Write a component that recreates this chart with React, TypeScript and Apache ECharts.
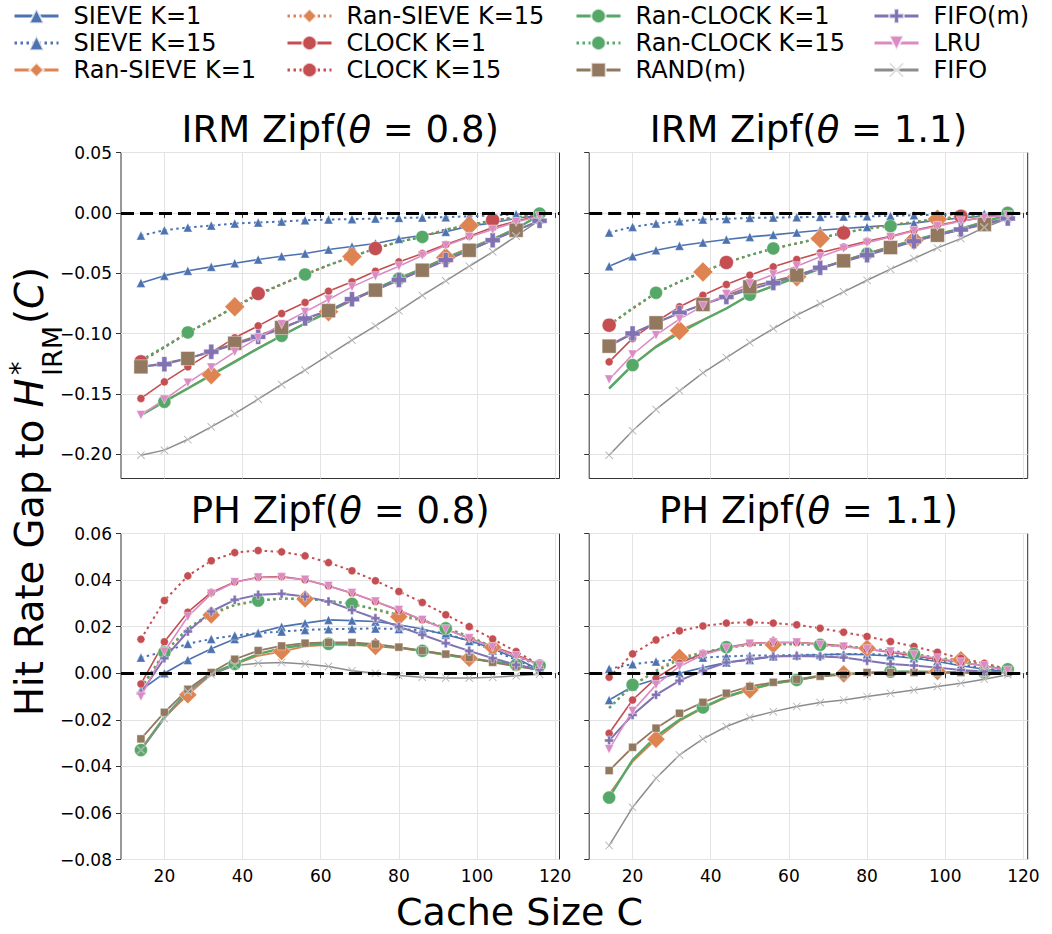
import React, { useEffect, useRef } from "react";
import * as echarts from "echarts";

// ---------------- data ----------------
const cacheSizes = [14, 20, 26, 32, 38, 44, 50, 56, 62, 68, 74, 80, 86, 92, 98, 104, 110, 116];
const xTickValues = [20, 40, 60, 80, 100, 120];
const yTicksIRM = [-0.2, -0.15, -0.1, -0.05, 0, 0.05];
const yTicksPH = [-0.08, -0.06, -0.04, -0.02, 0, 0.02, 0.04, 0.06];

const seriesNames = [
  "SIEVE K=1", "SIEVE K=15", "Ran-SIEVE K=1",
  "Ran-SIEVE K=15", "CLOCK K=1", "CLOCK K=15",
  "Ran-CLOCK K=1", "Ran-CLOCK K=15", "RAND(m)",
  "FIFO(m)", "LRU", "FIFO",
];

// IRM Zipf(0.8)
const irm08SieveK1 = [-0.058, -0.052, -0.048, -0.0447, -0.0417, -0.0386, -0.0359, -0.0337, -0.0304, -0.0278, -0.0254, -0.0215, -0.0185, -0.0157, -0.011, -0.0083, -0.0045, -0.002];
const irm08SieveK15 = [-0.0188, -0.0144, -0.0121, -0.0105, -0.0088, -0.008, -0.0072, -0.0061, -0.0055, -0.0052, -0.0047, -0.0041, -0.0039, -0.0036, -0.0028, -0.0022, -0.0011, -0.0006];
const irm08RanSieveK1 = [-0.167, -0.156, -0.145, -0.134, -0.123, -0.112, -0.1015, -0.0915, -0.0818, -0.072, -0.063, -0.054, -0.046, -0.037, -0.029, -0.0215, -0.013, -0.002];
const irm08RanSieveK15 = [-0.1225, -0.111, -0.099, -0.0885, -0.0778, -0.068, -0.059, -0.051, -0.0433, -0.0362, -0.0295, -0.024, -0.0195, -0.0138, -0.0105, -0.0066, -0.0039, -0.0011];
const irm08ClockK1 = [-0.1537, -0.14, -0.1275, -0.1155, -0.1035, -0.0936, -0.0834, -0.0742, -0.0649, -0.0571, -0.0483, -0.0406, -0.0337, -0.0262, -0.0193, -0.0121, -0.0069, -0.0019];
const irm08ClockK15 = [-0.1234, -0.1115, -0.0995, -0.0888, -0.0778, -0.0668, -0.0592, -0.051, -0.0433, -0.0364, -0.0295, -0.024, -0.0199, -0.0138, -0.0102, -0.006, -0.0039, -0.001];
const irm08RanClockK1 = [-0.1675, -0.1565, -0.1455, -0.1344, -0.1234, -0.1123, -0.1018, -0.0916, -0.082, -0.0723, -0.0632, -0.0544, -0.0461, -0.0378, -0.0295, -0.0221, -0.013, -0.002];
const irm08RanClockK15 = [-0.122, -0.111, -0.099, -0.0889, -0.0778, -0.0682, -0.0591, -0.051, -0.0433, -0.0364, -0.0295, -0.024, -0.0199, -0.0138, -0.0102, -0.0066, -0.0039, -0.0006];
const irm08RandM = [-0.1275, -0.1245, -0.1206, -0.1145, -0.108, -0.1015, -0.095, -0.088, -0.081, -0.0725, -0.064, -0.0557, -0.0475, -0.0392, -0.031, -0.0227, -0.0144, -0.0066];
const irm08FifoM = [-0.1275, -0.1253, -0.1206, -0.115, -0.109, -0.1027, -0.096, -0.0875, -0.081, -0.0715, -0.064, -0.0555, -0.0475, -0.039, -0.031, -0.0226, -0.0144, -0.0066];
const irm08Lru = [-0.1675, -0.1546, -0.1408, -0.128, -0.1151, -0.1035, -0.0922, -0.082, -0.0718, -0.0613, -0.0524, -0.0442, -0.0353, -0.027, -0.0199, -0.0138, -0.0075, -0.0028];
const irm08Fifo = [-0.2007, -0.1965, -0.1877, -0.1772, -0.1662, -0.1543, -0.1421, -0.1303, -0.1179, -0.1054, -0.0936, -0.0811, -0.0684, -0.0563, -0.0442, -0.0323, -0.0193, -0.0061];

// IRM Zipf(1.1)
const irm11SieveK1 = [-0.0442, -0.0359, -0.0309, -0.0273, -0.0246, -0.0221, -0.0199, -0.0182, -0.0163, -0.0144, -0.013, -0.0116, -0.0102, -0.0085, -0.006, -0.0042, -0.0025, -0.0011];
const irm11SieveK15 = [-0.0163, -0.0116, -0.0088, -0.0069, -0.0055, -0.005, -0.0041, -0.0039, -0.0036, -0.0033, -0.0031, -0.0028, -0.0026, -0.0019, -0.0016, -0.0013, -0.0008, -0.0005];
const irm11RanSieveK1 = [-0.145, -0.126, -0.1105, -0.0975, -0.0885, -0.079, -0.068, -0.0605, -0.053, -0.046, -0.0397, -0.0335, -0.028, -0.0226, -0.0177, -0.013, -0.0075, -0.0019];
const irm11RanSieveK15 = [-0.0932, -0.0795, -0.0665, -0.0572, -0.0489, -0.0412, -0.035, -0.0296, -0.0254, -0.0213, -0.0166, -0.013, -0.0102, -0.0075, -0.0052, -0.0033, -0.0019, -0.0006];
const irm11ClockK1 = [-0.1234, -0.104, -0.0902, -0.0778, -0.0682, -0.0593, -0.0516, -0.0447, -0.0386, -0.0331, -0.0282, -0.0235, -0.0193, -0.0144, -0.0102, -0.0066, -0.0039, -0.0011];
const irm11ClockK15 = [-0.093, -0.0792, -0.0662, -0.0571, -0.0489, -0.0411, -0.035, -0.0295, -0.0254, -0.0207, -0.0166, -0.013, -0.0102, -0.0075, -0.0052, -0.0028, -0.0019, -0.0006];
const irm11RanClockK1 = [-0.1455, -0.1261, -0.111, -0.0994, -0.0889, -0.0792, -0.0678, -0.0607, -0.0535, -0.0461, -0.0397, -0.0337, -0.0282, -0.0226, -0.0177, -0.013, -0.0075, -0.0019];
const irm11RanClockK15 = [-0.0928, -0.079, -0.0662, -0.057, -0.0488, -0.041, -0.035, -0.0295, -0.0253, -0.0207, -0.0166, -0.013, -0.011, -0.0075, -0.0052, -0.0033, -0.0019, 0];
const irm11RandM = [-0.1104, -0.1, -0.0911, -0.083, -0.0759, -0.0685, -0.0613, -0.0565, -0.0516, -0.0455, -0.0397, -0.034, -0.0287, -0.0236, -0.0185, -0.014, -0.0097, -0.0047];
const irm11FifoM = [-0.1096, -0.0999, -0.0911, -0.0828, -0.0759, -0.0696, -0.0635, -0.058, -0.0524, -0.0455, -0.0406, -0.035, -0.0295, -0.0235, -0.0185, -0.0138, -0.0088, -0.0047];
const irm11Lru = [-0.138, -0.1173, -0.1013, -0.088, -0.077, -0.0673, -0.0585, -0.051, -0.0442, -0.0364, -0.0295, -0.0248, -0.0199, -0.0149, -0.011, -0.0069, -0.0039, -0.0019];
const irm11Fifo = [-0.2007, -0.1805, -0.1628, -0.1474, -0.1325, -0.1198, -0.1074, -0.0958, -0.0847, -0.0751, -0.0654, -0.0558, -0.0466, -0.0378, -0.029, -0.0213, -0.0121, -0.0047];

// PH Zipf(0.8)
const ph08SieveK1 = [-0.0072, 0, 0.0057, 0.0105, 0.0147, 0.0175, 0.02, 0.0215, 0.0229, 0.0226, 0.0222, 0.0208, 0.019, 0.0165, 0.014, 0.0105, 0.0064, 0.0014];
const ph08SieveK15 = [0.0067, 0.0093, 0.0126, 0.0147, 0.0162, 0.0172, 0.0179, 0.0186, 0.0189, 0.0191, 0.0192, 0.019, 0.0184, 0.0172, 0.0138, 0.0098, 0.0057, 0.0014];
const ph08RanSieveK1 = [-0.0325, -0.019, -0.0093, -0.0005, 0.0038, 0.0075, 0.0093, 0.0115, 0.0122, 0.0122, 0.0115, 0.0108, 0.0095, 0.0078, 0.0064, 0.0049, 0.0035, 0.0014];
const ph08RanSieveK15 = [-0.0066, 0.0086, 0.019, 0.025, 0.0292, 0.031, 0.032, 0.0319, 0.031, 0.0296, 0.0273, 0.0243, 0.0226, 0.0196, 0.0158, 0.0112, 0.0074, 0.0033];
const ph08ClockK1 = [-0.0046, 0.0135, 0.0262, 0.0347, 0.0392, 0.0412, 0.0415, 0.0401, 0.0375, 0.0344, 0.0308, 0.0269, 0.0229, 0.019, 0.015, 0.0115, 0.0079, 0.0036];
const ph08ClockK15 = [0.0146, 0.0312, 0.0418, 0.0483, 0.0518, 0.0527, 0.0521, 0.0504, 0.0475, 0.044, 0.0397, 0.0351, 0.0304, 0.0251, 0.02, 0.0147, 0.0093, 0.0036];
const ph08RanClockK1 = [-0.033, -0.0189, -0.0079, -0.0003, 0.004, 0.0083, 0.0107, 0.0122, 0.0126, 0.0126, 0.0117, 0.011, 0.0096, 0.0079, 0.0064, 0.005, 0.0036, 0.0014];
const ph08RanClockK15 = [-0.0064, 0.0089, 0.0193, 0.0258, 0.0294, 0.0312, 0.0321, 0.0319, 0.0311, 0.0298, 0.0275, 0.0251, 0.0229, 0.0193, 0.0158, 0.0112, 0.0074, 0.0033];
const ph08RandM = [-0.0282, -0.0168, -0.0069, 0.0003, 0.006, 0.0097, 0.0117, 0.0129, 0.0132, 0.0132, 0.0125, 0.0112, 0.0097, 0.0082, 0.0067, 0.0047, 0.0029, 0.0014];
const ph08FifoM = [-0.0086, 0.0064, 0.0179, 0.0265, 0.0315, 0.0337, 0.0341, 0.0329, 0.0308, 0.0272, 0.0236, 0.02, 0.0165, 0.0129, 0.0096, 0.0064, 0.0036, 0.0014];
const ph08Lru = [-0.01, 0.0093, 0.0243, 0.0341, 0.0391, 0.0411, 0.0412, 0.0401, 0.0375, 0.0344, 0.0308, 0.0272, 0.0229, 0.0189, 0.015, 0.0112, 0.0074, 0.0036];
const ph08Fifo = [-0.033, -0.0196, -0.0079, -0.0007, 0.0033, 0.0043, 0.0046, 0.004, 0.0029, 0.0011, 0, -0.001, -0.0017, -0.0021, -0.0021, -0.0017, -0.0011, -0.0004];

// PH Zipf(1.1)
const ph11SieveK1 = [-0.0115, -0.0057, -0.0026, 0, 0.0024, 0.0046, 0.0057, 0.0072, 0.0076, 0.0079, 0.0082, 0.0079, 0.0074, 0.0064, 0.005, 0.0032, 0.0017, 0.0007];
const ph11SieveK15 = [0.0019, 0.0039, 0.005, 0.006, 0.0067, 0.0072, 0.0076, 0.0076, 0.0079, 0.0079, 0.0082, 0.0082, 0.0079, 0.0067, 0.0053, 0.0036, 0.0022, 0.0007];
const ph11RanSieveK1 = [-0.052, -0.038, -0.0284, -0.0205, -0.015, -0.0104, -0.0072, -0.0046, -0.003, -0.0013, -0.0003, 0, 0.0006, 0.0007, 0.0007, 0.0004, 0.0003, 0.0007];
const ph11RanSieveK15 = [-0.0148, -0.0055, 0.0012, 0.0068, 0.009, 0.011, 0.012, 0.0122, 0.0124, 0.012, 0.0115, 0.0107, 0.0095, 0.0082, 0.0066, 0.0058, 0.0035, 0.0017];
const ph11ClockK1 = [-0.0258, -0.0115, -0.0021, 0.0043, 0.0086, 0.011, 0.0129, 0.0132, 0.0132, 0.0126, 0.0117, 0.0103, 0.009, 0.0074, 0.006, 0.0046, 0.0032, 0.0014];
const ph11ClockK15 = [-0.0017, 0.0083, 0.0143, 0.0182, 0.0203, 0.0215, 0.0219, 0.0215, 0.0208, 0.0193, 0.0176, 0.0158, 0.0136, 0.0115, 0.009, 0.0064, 0.0043, 0.0017];
const ph11RanClockK1 = [-0.0534, -0.0372, -0.0272, -0.02, -0.0147, -0.01, -0.0069, -0.0043, -0.0029, -0.0011, -0.0003, 0, 0.0007, 0.0007, 0.0004, 0.0003, 0.0003, 0.0007];
const ph11RanClockK15 = [-0.015, -0.005, 0.0007, 0.006, 0.0086, 0.0112, 0.0122, 0.0126, 0.0126, 0.0122, 0.0117, 0.0107, 0.0096, 0.0083, 0.0064, 0.005, 0.0033, 0.0017];
const ph11RandM = [-0.0418, -0.0318, -0.0236, -0.0172, -0.0125, -0.0086, -0.0057, -0.0039, -0.0026, -0.0013, -0.0007, 0.0003, 0.0003, 0.0003, 0.0003, 0.0003, 0.0003, 0.0003];
const ph11FifoM = [-0.0289, -0.0179, -0.0093, -0.0032, 0.0011, 0.0046, 0.006, 0.0072, 0.0074, 0.0072, 0.0067, 0.0054, 0.004, 0.0033, 0.0024, 0.0014, 0.0007, 0.0003];
const ph11Lru = [-0.0326, -0.0162, -0.005, 0.0029, 0.0079, 0.0107, 0.0126, 0.0132, 0.0132, 0.0122, 0.0114, 0.0103, 0.0093, 0.0079, 0.0064, 0.0047, 0.0032, 0.0011];
const ph11Fifo = [-0.074, -0.0576, -0.0451, -0.0351, -0.0282, -0.0229, -0.019, -0.0165, -0.0143, -0.0126, -0.0115, -0.01, -0.0086, -0.0072, -0.0057, -0.0043, -0.0026, -0.0007];

const panelValues = [
  [irm08SieveK1, irm08SieveK15, irm08RanSieveK1, irm08RanSieveK15, irm08ClockK1, irm08ClockK15, irm08RanClockK1, irm08RanClockK15, irm08RandM, irm08FifoM, irm08Lru, irm08Fifo],
  [irm11SieveK1, irm11SieveK15, irm11RanSieveK1, irm11RanSieveK15, irm11ClockK1, irm11ClockK15, irm11RanClockK1, irm11RanClockK15, irm11RandM, irm11FifoM, irm11Lru, irm11Fifo],
  [ph08SieveK1, ph08SieveK15, ph08RanSieveK1, ph08RanSieveK15, ph08ClockK1, ph08ClockK15, ph08RanClockK1, ph08RanClockK15, ph08RandM, ph08FifoM, ph08Lru, ph08Fifo],
  [ph11SieveK1, ph11SieveK15, ph11RanSieveK1, ph11RanSieveK15, ph11ClockK1, ph11ClockK15, ph11RanClockK1, ph11RanClockK15, ph11RandM, ph11FifoM, ph11Lru, ph11Fifo],
];
const panelModels = ["IRM", "IRM", "PH", "PH"];
const panelThetas = ["0.8", "1.1", "0.8", "1.1"];

// ---------------- styles ----------------
const FONT = "DejaVu Sans";
const BLUE = "#4C72B0", ORANGE = "#DD8452", GREEN = "#55A868", RED = "#C44E52";
const PURPLE = "#8172B3", BROWN = "#937860", PINK = "#DA8BC3", GRAY = "#8C8C8C";
const PLUS = "path://M-1,-3H1V-1H3V1H1V3H-1V1H-3V-1H-1Z";
const XMARK = "path://M-1,-0.85L-0.85,-1L0,-0.15L0.85,-1L1,-0.85L0.15,0L1,0.85L0.85,1L0,0.15L-0.85,1L-1,0.85L-0.15,0Z";
const DOT: number[] = [2.5, 3.5];

const lineStyles: Record<string, any> = {
  "SIEVE K=1": { color: BLUE, type: "solid", width: 1.6, symbol: "triangle" },
  "SIEVE K=15": { color: BLUE, type: DOT, width: 2, symbol: "triangle" },
  "Ran-SIEVE K=1": { color: ORANGE, type: "solid", width: 1.8, symbol: "diamond" },
  "Ran-SIEVE K=15": { color: ORANGE, type: DOT, width: 2, symbol: "diamond" },
  "CLOCK K=1": { color: RED, type: "solid", width: 1.6, symbol: "circle" },
  "CLOCK K=15": { color: RED, type: DOT, width: 2, symbol: "circle" },
  "Ran-CLOCK K=1": { color: GREEN, type: "solid", width: 2.4, symbol: "circle" },
  "Ran-CLOCK K=15": { color: GREEN, type: DOT, width: 2.4, symbol: "circle" },
  "RAND(m)": { color: BROWN, type: "solid", width: 1.8, symbol: "rect" },
  "FIFO(m)": { color: PURPLE, type: "solid", width: 2, symbol: PLUS },
  "LRU": { color: PINK, type: "solid", width: 1.6, symbol: "triangle", rotate: 180 },
  "FIFO": { color: GRAY, type: "solid", width: 1.5, symbol: XMARK },
};

// marker placement: first index, step, size
const topMarkers: Record<string, number[]> = {
  "SIEVE K=1": [0, 1, 9], "SIEVE K=15": [0, 1, 9],
  "Ran-SIEVE K=1": [3, 5, 20], "Ran-SIEVE K=15": [4, 5, 20],
  "CLOCK K=1": [0, 1, 8], "CLOCK K=15": [0, 5, 14],
  "Ran-CLOCK K=1": [1, 5, 13], "Ran-CLOCK K=15": [2, 5, 13],
  "RAND(m)": [0, 2, 14], "FIFO(m)": [1, 2, 15],
  "LRU": [0, 1, 9], "FIFO": [0, 1, 8],
};
const bottomMarkers: Record<string, number[]> = {
  "SIEVE K=1": [0, 1, 9], "SIEVE K=15": [0, 1, 9],
  "Ran-SIEVE K=1": [2, 4, 18], "Ran-SIEVE K=15": [3, 4, 18],
  "CLOCK K=1": [0, 1, 8], "CLOCK K=15": [0, 1, 8],
  "Ran-CLOCK K=1": [0, 4, 13], "Ran-CLOCK K=15": [1, 4, 13],
  "RAND(m)": [0, 1, 8], "FIFO(m)": [0, 1, 9],
  "LRU": [0, 1, 9], "FIFO": [0, 1, 8],
};

const grids = [
  { left: 121, top: 152.5, width: 438.5, height: 326 },
  { left: 589.2, top: 152.5, width: 438.5, height: 326 },
  { left: 121, top: 533.5, width: 438.5, height: 326 },
  { left: 589.2, top: 533.5, width: 438.5, height: 326 },
];

const fmtY = (v: number) => (v < -1e-9 ? "\u2212" : "") + Math.abs(v).toFixed(2);

function buildOption() {
  const series: any[] = [];
  panelValues.forEach((vals, p) => {
    const markers = p < 2 ? topMarkers : bottomMarkers;
    seriesNames.forEach((name, s) => {
      const st = lineStyles[name];
      const [start, step, size] = markers[name];
      const data = cacheSizes.map((x, i) => {
        const on = i >= start && (i - start) % step === 0;
        return on ? [x, vals[s][i]] : { value: [x, vals[s][i]], symbol: "none" };
      });
      const ser: any = {
        type: "line",
        name,
        xAxisIndex: p,
        yAxisIndex: p,
        data,
        symbol: st.symbol,
        symbolSize: size,
        symbolRotate: st.rotate || 0,
        showSymbol: true,
        lineStyle: { color: st.color, type: st.type, width: st.width },
        itemStyle: { color: st.color, borderColor: "rgba(255,255,255,0.7)", borderWidth: 0.6 },
        emphasis: { disabled: true },
        silent: true,
        z: 2,
      };
      if (s === seriesNames.length - 1) {
        ser.markLine = {
          silent: true,
          symbol: ["none", "none"],
          label: { show: false },
          lineStyle: { color: "#000", type: [13, 6], width: 3 },
          data: [{ yAxis: 0 }],
          animation: false,
        };
      }
      series.push(ser);
    });
  });

  const xAxis = grids.map((_, p) => ({
    type: "value",
    gridIndex: p,
    min: 8.9,
    max: 121.1,
    minInterval: 20,
    maxInterval: 20,
    axisLine: { show: false },
    axisTick: { show: true, inside: false, length: 5, customValues: xTickValues, lineStyle: { color: "#333", width: 1 } },
    axisLabel: {
      show: p >= 2,
      customValues: xTickValues,
      fontSize: 17,
      fontFamily: FONT,
      color: "#000",
      margin: 8,
      formatter: (v: number) => String(Math.round(v)),
    },
    splitLine: { show: true, lineStyle: { color: "#e3e3e3", width: 1 } },
  }));

  const yAxis = grids.map((_, p) => {
    const top = p < 2;
    const ticks = top ? yTicksIRM : yTicksPH;
    return {
      type: "value",
      gridIndex: p,
      min: top ? -0.22 : -0.08,
      max: top ? 0.05 : 0.06,
      minInterval: top ? 0.05 : 0.02,
      maxInterval: top ? 0.05 : 0.02,
      axisLine: { show: false },
      axisTick: { show: true, inside: false, length: 5, customValues: ticks, lineStyle: { color: "#333", width: 1 } },
      axisLabel: {
        show: p % 2 === 0,
        customValues: ticks,
        fontSize: 17,
        fontFamily: FONT,
        color: "#000",
        margin: 9,
        formatter: fmtY,
      },
      splitLine: { show: true, lineStyle: { color: "#e3e3e3", width: 1 } },
    };
  });

  const legendCols = [
    { left: 8, names: seriesNames.slice(0, 3) },
    { left: 281, names: seriesNames.slice(3, 6) },
    { left: 570, names: seriesNames.slice(6, 9) },
    { left: 868, names: seriesNames.slice(9, 12) },
  ];
  const legend = legendCols.map((c) => ({
    orient: "vertical",
    left: c.left,
    top: -1,
    data: c.names,
    itemWidth: 44,
    itemHeight: 18,
    itemGap: 3,
    selectedMode: false,
    lineStyle: { width: 3 },
    textStyle: { fontSize: 24, fontFamily: FONT, color: "#000", lineHeight: 24, padding: [0, 0, 0, 10] },
  }));

  const titleRich = {
    a: { fontSize: 37, fontFamily: FONT, fill: "#000", color: "#000" },
    b: { fontSize: 37, fontFamily: FONT, fontStyle: "italic", fill: "#000", color: "#000" },
  };
  const titles = grids.map((g, p) => ({
    type: "text",
    x: g.left + g.width / 2,
    y: g.top - 23.5,
    style: {
      text: `{a|${panelModels[p]} Zipf(}{b|\u03b8}{a| = ${panelThetas[p]})}`,
      rich: titleRich,
      align: "center",
      verticalAlign: "middle",
    },
  }));

  const labRich = {
    n: { fontSize: 38.5, fontFamily: FONT, fill: "#000", color: "#000" },
    i: { fontSize: 38.5, fontFamily: FONT, fontStyle: "italic", fill: "#000", color: "#000" },
  };
  const ylabel = {
    type: "group",
    x: 29.3,
    y: 716,
    rotation: Math.PI / 2,
    children: [
      { type: "text", x: 0, y: 0, style: { text: "{n|Hit Rate Gap to }{i|H}", rich: labRich, align: "left", verticalAlign: "middle" } },
      { type: "text", x: 341, y: -9.5, style: { text: "*", fontSize: 27, fontFamily: FONT, fill: "#000", align: "left", verticalAlign: "middle" } },
      { type: "text", x: 340, y: 23, style: { text: "IRM", fontSize: 27, fontFamily: FONT, fill: "#000", align: "left", verticalAlign: "middle" } },
      { type: "text", x: 392, y: 0, style: { text: "{n|(}{i|C}{n|)}", rich: labRich, align: "left", verticalAlign: "middle" } },
    ],
  };
  const xlabel = {
    type: "text",
    x: 519.5,
    y: 911.5,
    style: { text: "Cache Size C", fontSize: 38, fontFamily: FONT, fill: "#000", align: "center", verticalAlign: "middle" },
  };

  return {
    animation: false,
    backgroundColor: "#ffffff",
    textStyle: { fontFamily: FONT },
    grid: grids.map((g) => ({
      ...g,
      show: true,
      borderColor: "#333",
      borderWidth: 1,
      backgroundColor: "transparent",
      containLabel: false,
      outerBoundsMode: "none",
    })),
    xAxis,
    yAxis,
    legend,
    series,
    graphic: [...titles, ylabel, xlabel],
  };
}

export default function App() {
  const ref = useRef<HTMLDivElement>(null);
  useEffect(() => {
    if (!ref.current) return;
    const chart = echarts.init(ref.current, null, { renderer: "svg" });
    chart.setOption(buildOption() as any);
    return () => chart.dispose();
  }, []);
  return (
    <div
      ref={ref}
      style={{ position: "fixed", left: 0, top: 0, width: 1052, height: 934, background: "#fff" }}
    />
  );
}
